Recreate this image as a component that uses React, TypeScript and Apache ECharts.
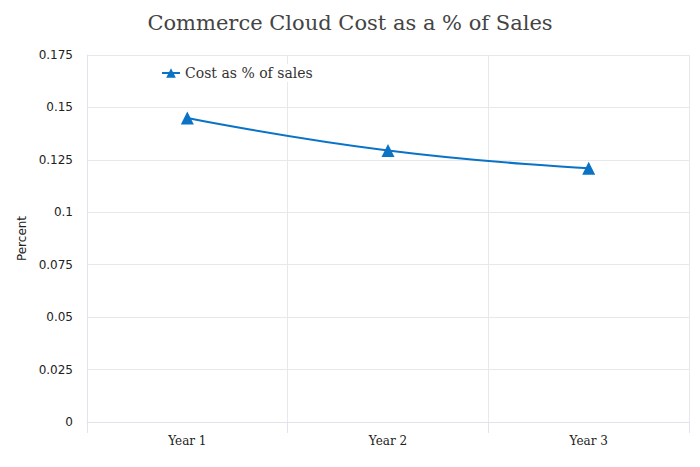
import React, { useEffect, useRef } from "react";
import * as echarts from "echarts";

const categories = ["Year 1", "Year 2", "Year 3"];
const costPercent = [0.145, 0.1295, 0.121];
const seriesName = "Cost as % of sales";
const titleText = "Commerce Cloud Cost as a % of Sales";

export default function App() {
  const ref = useRef<HTMLDivElement>(null);
  useEffect(() => {
    if (!ref.current) return;
    const chart = echarts.init(ref.current, undefined, { renderer: "svg" });
    chart.setOption({
      animation: false,
      backgroundColor: "#ffffff",
      title: {
        text: titleText,
        left: "center",
        top: 7,
        textStyle: {
          fontFamily: "DejaVu Serif",
          fontSize: 21,
          fontWeight: "normal",
          color: "#444444",
        },
      },
      legend: {
        left: 157,
        top: 64,
        backgroundColor: "#ffffff",
        padding: [2, 4],
        itemWidth: 18,
        itemHeight: 12,
        itemGap: 6,
        textStyle: { fontFamily: "DejaVu Serif", fontSize: 14, color: "#333333" },
        data: [seriesName],
      },
      grid: { left: 87, right: 11, top: 55, bottom: 45 },
      xAxis: {
        type: "category",
        data: categories,
        boundaryGap: true,
        axisLine: { lineStyle: { color: "#dfe4f0" } },
        axisTick: { show: true, length: 11, lineStyle: { color: "#dfe4f0" } },
        splitLine: { show: true, lineStyle: { color: "#e8e8e8" } },
        axisLabel: {
          fontFamily: "DejaVu Serif",
          fontSize: 12,
          color: "#222222",
          margin: 13,
        },
      },
      yAxis: {
        type: "value",
        min: 0,
        max: 0.175,
        interval: 0.025,
        name: "Percent",
        nameLocation: "middle",
        nameGap: 56,
        nameTextStyle: { fontFamily: "DejaVu Sans", fontSize: 12, color: "#222222" },
        axisLine: { show: true, lineStyle: { color: "#dfe4f0" } },
        axisTick: { show: false },
        splitLine: { show: true, lineStyle: { color: "#e8e8e8" } },
        axisLabel: {
          fontFamily: "DejaVu Sans",
          fontSize: 12,
          color: "#222222",
          margin: 14,
        },
      },
      series: [
        {
          name: seriesName,
          type: "line",
          smooth: true,
          data: costPercent,
          symbol: "triangle",
          symbolSize: 13,
          lineStyle: { color: "#0a73c6", width: 2 },
          itemStyle: { color: "#0a73c6" },
        },
      ],
    });
    return () => chart.dispose();
  }, []);
  return (
    <div
      ref={ref}
      style={{ position: "absolute", left: 0, top: 0, width: 700, height: 467 }}
    />
  );
}
